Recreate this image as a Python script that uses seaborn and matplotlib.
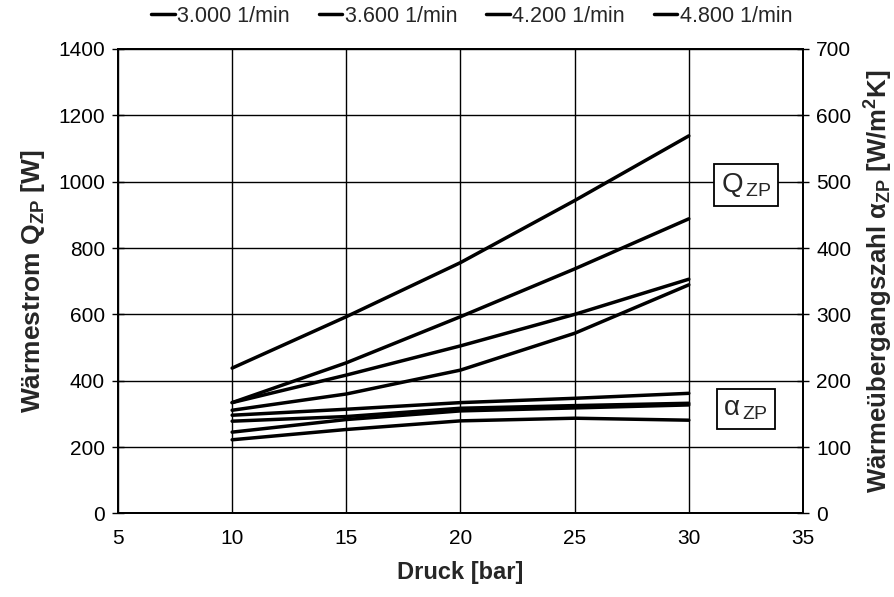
import matplotlib
matplotlib.use("Agg")
import matplotlib.pyplot as plt
import seaborn as sns
import pandas as pd

# Pressure steps [bar]
druck = [10, 15, 20, 25, 30]
drehzahl = ["3.000 1/min", "3.600 1/min", "4.200 1/min", "4.800 1/min"]

# Heat flow Q_ZP [W] per speed
q_3000 = [311, 360, 432, 543, 689]
q_3600 = [334, 417, 505, 600, 706]
q_4200 = [334, 454, 593, 737, 888]
q_4800 = [438, 593, 756, 943, 1138]

# Heat transfer coefficient alpha_ZP [W/m²K] per speed
a_3000 = [111, 126.5, 139.5, 143.5, 140.5]
a_3600 = [122.5, 141.5, 154.5, 159, 163.5]
a_4200 = [139, 146, 158.5, 162.5, 166]
a_4800 = [148, 157, 167, 173.5, 181]

x_ticks = [5, 10, 15, 20, 25, 30, 35]
q_ticks = [0, 200, 400, 600, 800, 1000, 1200, 1400]
a_ticks = [0, 100, 200, 300, 400, 500, 600, 700]

sns.set_theme(style="white")
plt.rcParams["font.family"] = ["Liberation Sans", "DejaVu Sans"]
plt.rcParams["mathtext.fontset"] = "custom"
plt.rcParams["mathtext.rm"] = "Liberation Sans"
plt.rcParams["mathtext.it"] = "Liberation Sans:italic"
plt.rcParams["mathtext.bf"] = "Liberation Sans:bold"

q_df = pd.DataFrame({
    "Druck": druck * 4,
    "Q": q_3000 + q_3600 + q_4200 + q_4800,
    "Drehzahl": sum([[d] * len(druck) for d in drehzahl], []),
})
a_df = pd.DataFrame({
    "Druck": druck * 4,
    "alpha": a_3000 + a_3600 + a_4200 + a_4800,
    "Drehzahl": sum([[d] * len(druck) for d in drehzahl], []),
})

black = {d: "black" for d in drehzahl}

fig = plt.figure(figsize=(8.95, 5.97), dpi=100)
ax = fig.add_axes([0.1318, 0.140, 0.8972 - 0.1318, 0.918 - 0.140])

sns.lineplot(data=q_df, x="Druck", y="Q", hue="Drehzahl", palette=black,
             linewidth=2.5, ax=ax, zorder=3)

ax.set_xlim(5, 35)
ax.set_ylim(0, 1400)
ax.set_xticks(x_ticks)
ax.set_yticks(q_ticks)
ax.grid(True, color="black", linewidth=1.0)
ax.set_axisbelow(True)
for s in ax.spines.values():
    s.set_color("black")
    s.set_linewidth(1.3)
ax.tick_params(axis="both", direction="inout", length=9, width=1.0,
               colors="black", labelsize=15, pad=5)
ax.tick_params(axis="x", pad=7)
ax.set_xlabel("Druck [bar]", fontsize=17, fontweight="bold", labelpad=9)
ax.set_ylabel(r"Wärmestrom Q$_{\mathbf{ZP}}$ [W]", fontsize=19,
              fontweight="bold", labelpad=8)

ax2 = ax.twinx()
sns.lineplot(data=a_df, x="Druck", y="alpha", hue="Drehzahl", palette=black,
             linewidth=2.5, ax=ax2, legend=False, zorder=3)
ax2.set_ylim(0, 700)
ax2.set_yticks(a_ticks)
ax2.tick_params(axis="y", direction="inout", length=9, width=1.0,
                colors="black", labelsize=15, pad=5)
for s in ax2.spines.values():
    s.set_color("black")
    s.set_linewidth(1.3)
ax2.set_ylabel(r"Wärmeübergangszahl α$_{\mathbf{ZP}}$ [W/m$^{\mathbf{2}}$K]",
               fontsize=18.5, fontweight="bold", labelpad=8)

# Curve group tags
box = dict(boxstyle="square,pad=0.25", facecolor="white", edgecolor="black",
           linewidth=1.3)
ax.text(32.5, 990, r"Q$_{\,\mathrm{ZP}}$", fontsize=20, ha="center",
        va="center", bbox=box, zorder=5)
ax.text(32.5, 316, r"α$_{\,\mathrm{ZP}}$", fontsize=20, ha="center",
        va="center", bbox=box, zorder=5)

handles, labels = ax.get_legend_handles_labels()
ax.get_legend().remove()
fig.legend(handles, labels, loc="center", bbox_to_anchor=(0.527, 0.973),
           ncol=4, frameon=False, fontsize=15.5, handlelength=1.1,
           handletextpad=0.1, columnspacing=1.35)

fig.savefig("out.png", dpi=100)
